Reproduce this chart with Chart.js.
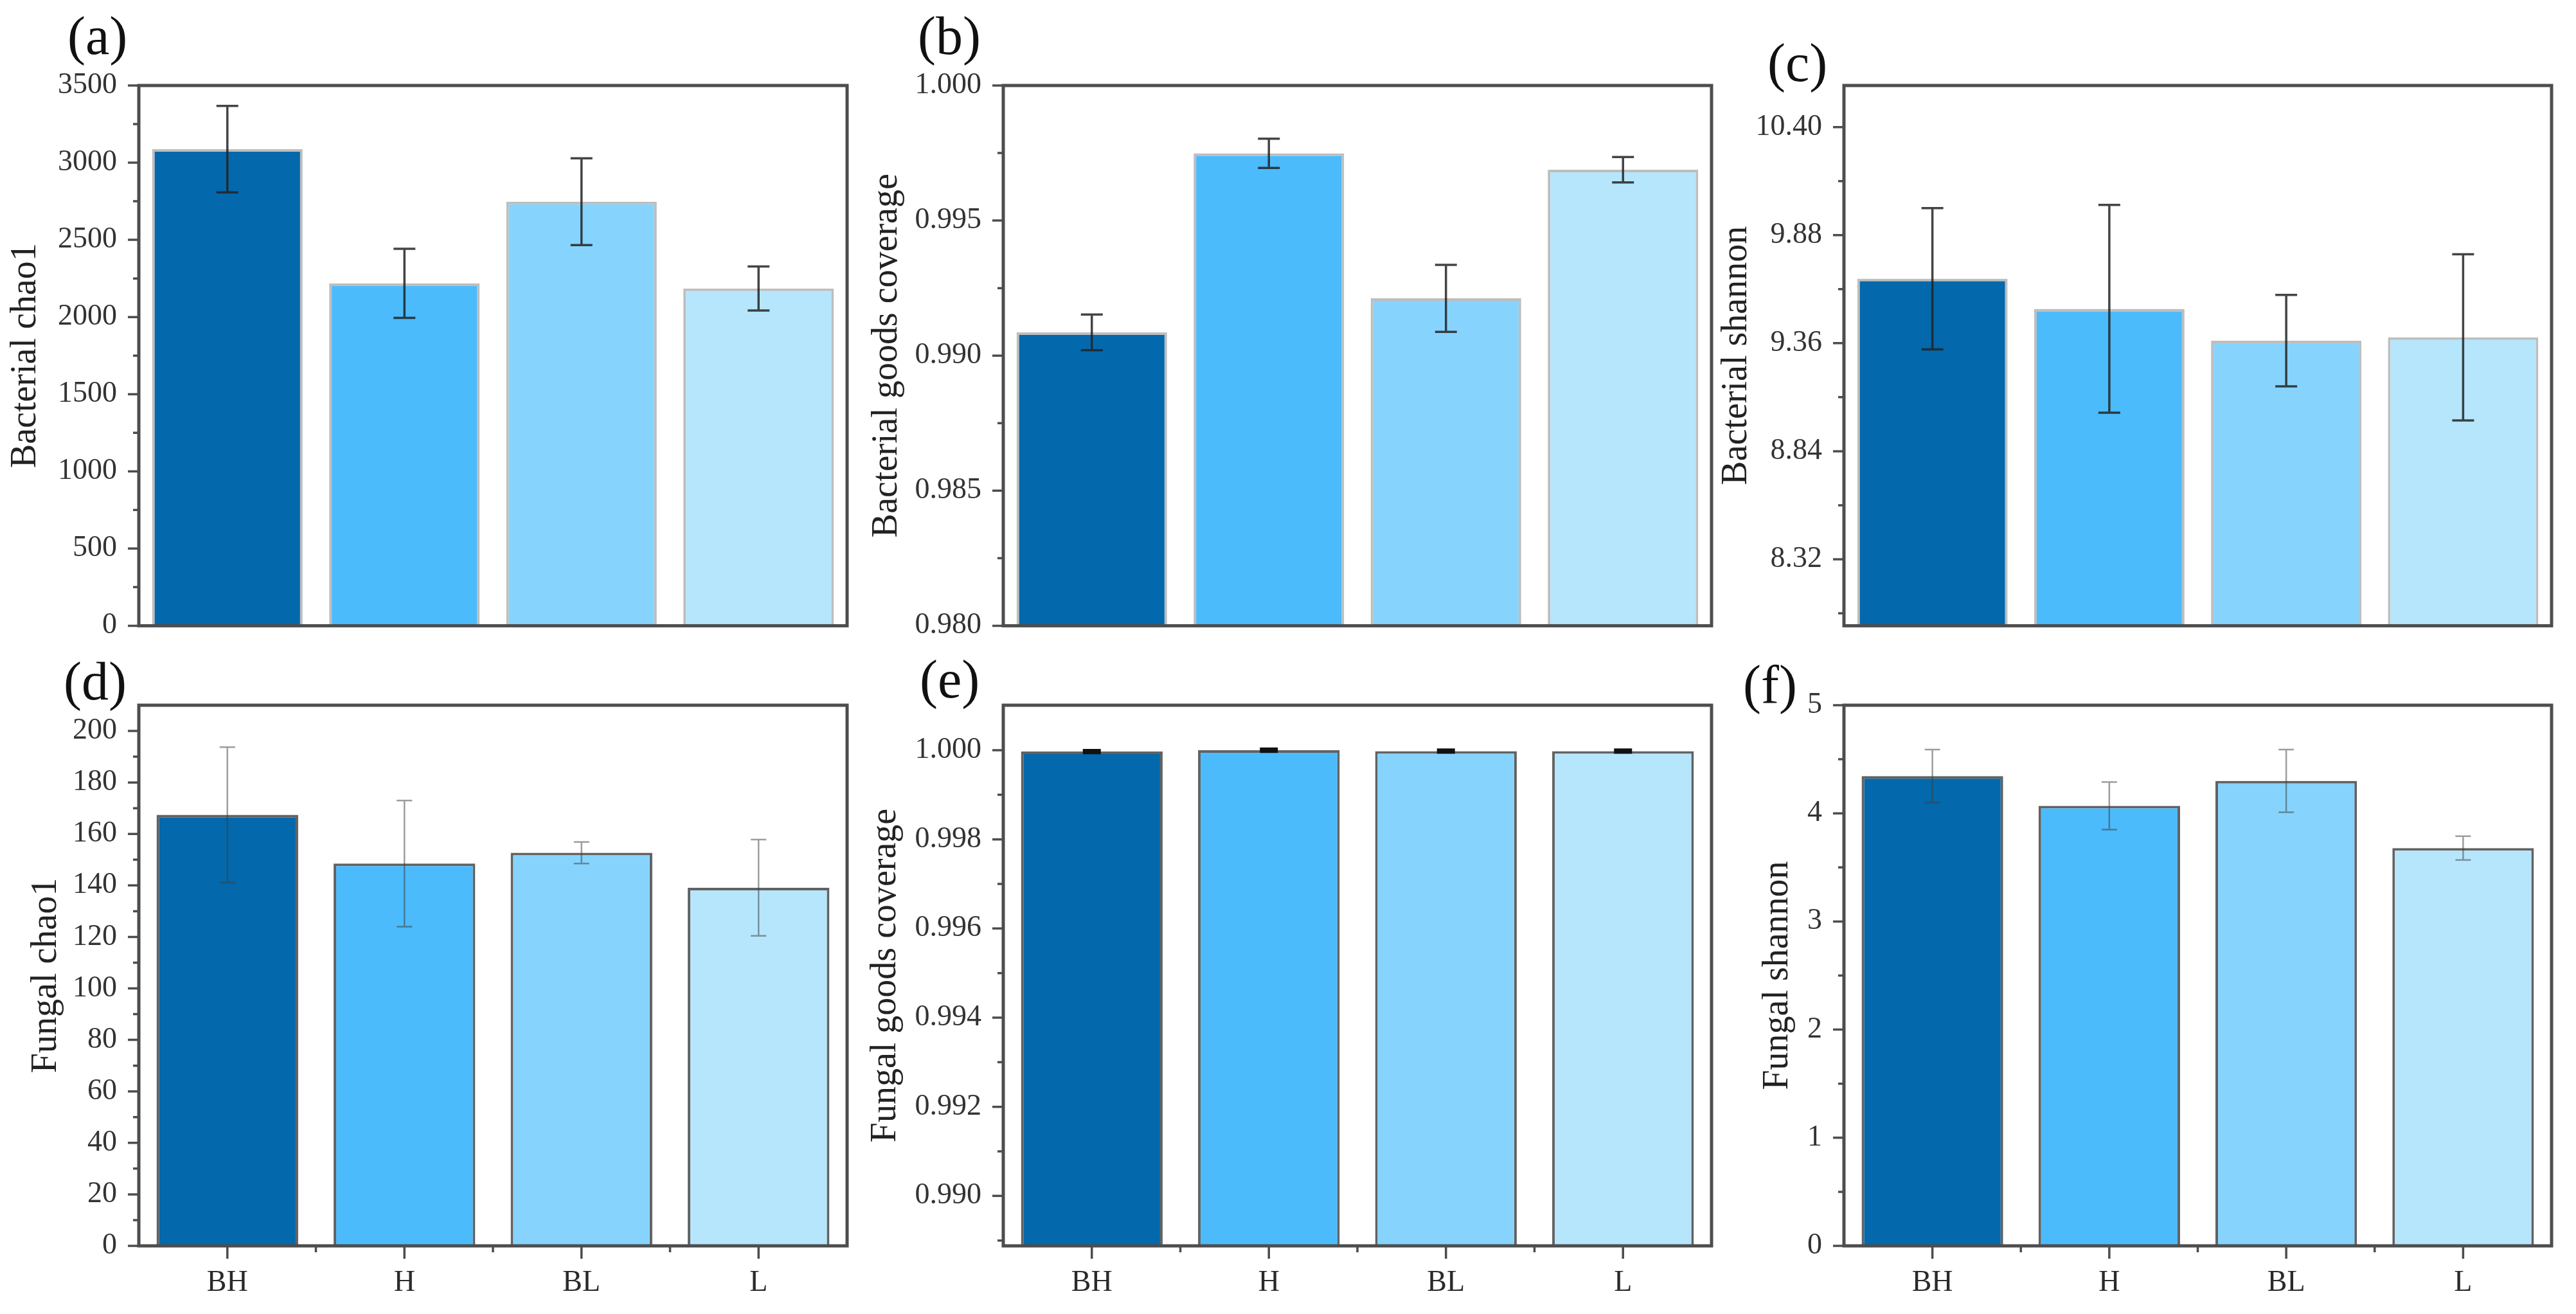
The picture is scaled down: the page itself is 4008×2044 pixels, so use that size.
<!DOCTYPE html>
<html>
<head>
<meta charset="utf-8">
<script src="https://cdn.jsdelivr.net/npm/chart.js@4.4.1/dist/chart.umd.min.js"></script>
<style>
  html, body { margin: 0; padding: 0; background: #fff; }
  #fig { position: relative; width: 4008px; height: 2044px; overflow: hidden; background: #fff; }
  #fig canvas { position: absolute; }
</style>
</head>
<body>
<div id="fig"></div>
<script>
// ---- data ----
var groups = ['BH', 'H', 'BL', 'L'];
var barColors = ['#0468ac', '#4bbbfc', '#86d4fd', '#b5e6fc'];

var bactChao1 = [3088, 2218, 2747, 2185];
var bactChao1Err = [280, 224, 281, 143];
var bactGoods = [0.99086, 0.99749, 0.99212, 0.99688];
var bactGoodsErr = [0.00066, 0.00054, 0.00124, 0.00047];
var bactShannon = [9.67, 9.525, 9.372, 9.388];
var bactShannonErr = [0.34, 0.50, 0.22, 0.40];

var fungChao1 = [167.4, 148.5, 152.7, 139.1];
var fungChao1Err = [26.3, 24.5, 4.2, 18.7];
var fungGoods = [0.99997, 1.00000, 0.99998, 0.99998];
var fungGoodsErr = [0.00001, 0.00001, 0.00001, 0.00001];
var fungShannon = [4.345, 4.07, 4.30, 3.678];
var fungShannonErr = [0.245, 0.22, 0.29, 0.11];

// tick values, major (labelled) and minor (unlabelled)
var ticksA = [0, 500, 1000, 1500, 2000, 2500, 3000, 3500];
var minorA = [250, 750, 1250, 1750, 2250, 2750, 3250];
var ticksB = [0.980, 0.985, 0.990, 0.995, 1.000];
var minorB = [0.9825, 0.9875, 0.9925, 0.9975];
var ticksC = [8.32, 8.84, 9.36, 9.88, 10.40];
var minorC = [8.06, 8.58, 9.10, 9.62, 10.14];
var ticksD = [0, 20, 40, 60, 80, 100, 120, 140, 160, 180, 200];
var minorD = [10, 30, 50, 70, 90, 110, 130, 150, 170, 190];
var ticksE = [0.990, 0.992, 0.994, 0.996, 0.998, 1.000];
var minorE = [0.989, 0.991, 0.993, 0.995, 0.997, 0.999];
var ticksF = [0, 1, 2, 3, 4, 5];
var minorF = [0.5, 1.5, 2.5, 3.5, 4.5];

// ---- layout (figure pixels) ----
var colLeft = [216, 1561, 2869];
var colRight = [1318, 2663, 3970];
var rowTop = [133, 1097];
var rowBottom = [975, 1938];
var LEFT_MARGIN = 216, TOP_MARGIN = 133, RIGHT_MARGIN = 24;
var SERIF = '"Liberation Serif", "Times New Roman", serif';

Chart.defaults.font.family = SERIF;
Chart.defaults.color = '#2a2a2a';

var panels = [
  { label: '(a)', title: 'Bacterial chao1', values: bactChao1, errors: bactChao1Err,
    min: 0, max: 3500, ticks: ticksA, minor: minorA, dec: 0, col: 0, row: 0,
    labelDx: -111, labelDy: -71, titlePad: 7 },
  { label: '(b)', title: 'Bacterial goods coverage', values: bactGoods, errors: bactGoodsErr,
    min: 0.980, max: 1.000, ticks: ticksB, minor: minorB, dec: 3, col: 1, row: 0,
    labelDx: -133, labelDy: -71, titlePad: 2 },
  { label: '(c)', title: 'Bacterial shannon', values: bactShannon, errors: bactShannonErr,
    min: 8.0, max: 10.6, ticks: ticksC, minor: minorC, dec: 2, col: 2, row: 0,
    labelDx: -119, labelDy: -29, titlePad: 16 },
  { label: '(d)', title: 'Fungal chao1', values: fungChao1, errors: fungChao1Err,
    min: 0, max: 210, ticks: ticksD, minor: minorD, dec: 0, col: 0, row: 1,
    labelDx: -117, labelDy: -31, titlePad: 39 },
  { label: '(e)', title: 'Fungal goods coverage', values: fungGoods, errors: fungGoodsErr,
    min: 0.98888, max: 1.00101, ticks: ticksE, minor: minorE, dec: 3, col: 1, row: 1,
    labelDx: -130, labelDy: -34, titlePad: 0 },
  { label: '(f)', title: 'Fungal shannon', values: fungShannon, errors: fungShannonErr,
    min: 0, max: 5, ticks: ticksF, minor: minorF, dec: 0, col: 2, row: 1,
    labelDx: -157, labelDy: -26, titlePad: 80 }
];

// per-row look: top row bars have faint edges and dark error bars,
// bottom row bars have darker edges and lighter error bars
var rowStyle = [
  { barEdge: 'rgba(70,70,70,0.35)', barPct: 0.85, errColor: 'rgba(35,35,35,0.85)', errWidth: 3.5, capHalf: 17 },
  { barEdge: 'rgba(45,45,45,0.75)', barPct: 0.80, errColor: 'rgba(60,60,60,0.5)', errWidth: 2.5, capHalf: 12 }
];

// error bars, box frame, outward tick marks and the panel letter
var panelDecor = {
  id: 'panelDecor',
  afterDatasetsDraw: function (chart, args, opts) {
    var p = opts.panel, st = opts.style;
    var ctx = chart.ctx, a = chart.chartArea;
    var xs = chart.scales.x, ys = chart.scales.y;
    var meta = chart.getDatasetMeta(0);
    ctx.save();

    var heavy = p.label === '(e)';
    ctx.strokeStyle = heavy ? '#111' : st.errColor;
    ctx.lineWidth = heavy ? 7 : st.errWidth;
    meta.data.forEach(function (bar, i) {
      var top = ys.getPixelForValue(p.values[i] + p.errors[i]);
      var bot = ys.getPixelForValue(p.values[i] - p.errors[i]);
      var cap = heavy ? 14 : st.capHalf;
      ctx.beginPath();
      ctx.moveTo(bar.x, top); ctx.lineTo(bar.x, bot);
      ctx.moveTo(bar.x - cap, top); ctx.lineTo(bar.x + cap, top);
      ctx.moveTo(bar.x - cap, bot); ctx.lineTo(bar.x + cap, bot);
      ctx.stroke();
    });

    ctx.strokeStyle = '#4d4d4d';
    ctx.lineWidth = 5;
    ctx.strokeRect(a.left, a.top, a.right - a.left, a.bottom - a.top);

    ctx.lineWidth = 3.5;
    ctx.beginPath();
    p.ticks.forEach(function (v) {
      var y = ys.getPixelForValue(v);
      ctx.moveTo(a.left, y); ctx.lineTo(a.left - 17, y);
    });
    p.minor.forEach(function (v) {
      var y = ys.getPixelForValue(v);
      ctx.moveTo(a.left, y); ctx.lineTo(a.left - 9, y);
    });
    if (p.row === 1) {
      groups.forEach(function (g, i) {
        var x = xs.getPixelForValue(i);
        ctx.moveTo(x, a.bottom); ctx.lineTo(x, a.bottom + 20);
        if (i < groups.length - 1) {
          var xm = xs.getPixelForValue(i + 0.5);
          ctx.moveTo(xm, a.bottom); ctx.lineTo(xm, a.bottom + 10);
        }
      });
    }
    ctx.stroke();

    ctx.fillStyle = '#111';
    ctx.font = '84px ' + SERIF;
    ctx.textBaseline = 'middle';
    ctx.textAlign = 'left';
    ctx.fillText(p.label, a.left + p.labelDx, a.top + p.labelDy);
    ctx.restore();
  }
};

var fig = document.getElementById('fig');

panels.forEach(function (p) {
  var st = rowStyle[p.row];
  var plotW = colRight[p.col] - colLeft[p.col];
  var plotH = rowBottom[p.row] - rowTop[p.row];
  var canvasTop = rowTop[p.row] - TOP_MARGIN;
  var canvasH = p.row === 0 ? TOP_MARGIN + plotH + 60 : 2044 - canvasTop;
  var xAxisH = canvasH - TOP_MARGIN - plotH;

  var canvas = document.createElement('canvas');
  canvas.width = LEFT_MARGIN + plotW + RIGHT_MARGIN;
  canvas.height = canvasH;
  canvas.style.left = (colLeft[p.col] - LEFT_MARGIN) + 'px';
  canvas.style.top = canvasTop + 'px';
  fig.appendChild(canvas);

  new Chart(canvas, {
    type: 'bar',
    data: {
      labels: groups,
      datasets: [{
        data: p.values,
        backgroundColor: barColors,
        borderColor: st.barEdge,
        borderWidth: 4,
        barPercentage: st.barPct,
        categoryPercentage: 1.0
      }]
    },
    options: {
      responsive: false,
      devicePixelRatio: 1,
      animation: false,
      layout: { padding: { top: TOP_MARGIN, right: RIGHT_MARGIN, left: 0, bottom: 0 } },
      plugins: {
        legend: { display: false },
        tooltip: { enabled: false },
        panelDecor: { panel: p, style: st }
      },
      scales: {
        x: {
          offset: true,
          grid: { display: false, drawTicks: false },
          border: { display: false },
          ticks: {
            display: p.row === 1,
            padding: 30,
            font: { size: 46 },
            color: '#2a2a2a'
          },
          afterFit: function (s) { s.height = xAxisH; }
        },
        y: {
          min: p.min,
          max: p.max,
          grid: { display: false, drawTicks: false },
          border: { display: false },
          afterBuildTicks: function (s) {
            s.ticks = p.ticks.map(function (v) { return { value: v }; });
          },
          ticks: {
            autoSkip: false,
            padding: 34,
            font: { size: 46 },
            color: '#333',
            callback: function (v) { return Number(v).toFixed(p.dec); }
          },
          title: {
            display: true,
            text: p.title,
            font: { size: 56 },
            color: '#222',
            padding: { top: p.titlePad, bottom: 0 }
          },
          afterFit: function (s) { s.width = LEFT_MARGIN; }
        }
      }
    },
    plugins: [panelDecor]
  });
});
</script>
</body>
</html>
